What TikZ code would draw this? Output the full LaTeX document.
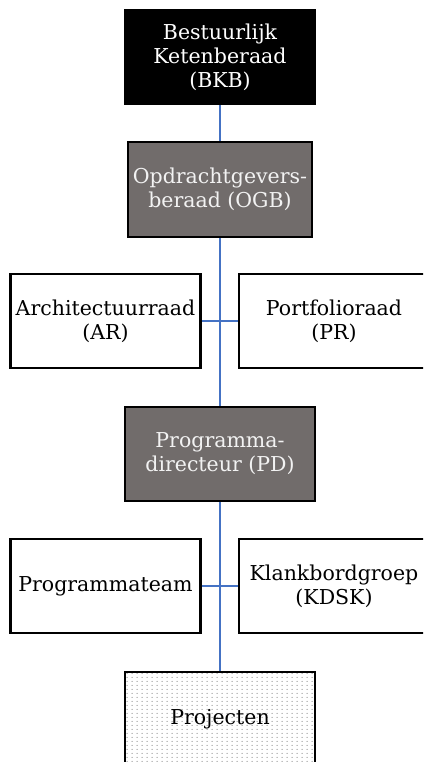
\documentclass[tikz,border=0pt]{standalone}
\usepackage{fontspec}
\setmainfont{DejaVu Serif}
\usepackage{xcolor}
\usetikzlibrary{positioning,patterns}

\definecolor{govgrey}{RGB}{113,108,107}
\definecolor{linkblue}{RGB}{68,114,196}

% sparse dot grid for the project box
\pgfdeclarepatternformonly{projdots}{\pgfpointorigin}{\pgfpoint{4.3pt}{3.5pt}}{\pgfpoint{4.3pt}{3.5pt}}{
  \pgfpathcircle{\pgfpoint{2.1pt}{1.7pt}}{0.6pt}
  \pgfusepath{fill}
}

\begin{document}
\begin{tikzpicture}[
  x=0.03cm, y=-0.03cm,
  font=\fontsize{17.5}{20.5}\selectfont,
  unit/.style={draw, line width=2pt, minimum width=5.7cm, minimum height=2.82cm, align=center, inner sep=1pt},
  topbox/.style={unit, fill=black, text=white},
  govbox/.style={unit, fill=govgrey, text=white!95!black},
  sidebox/.style={unit, fill=white},
  projbox/.style={unit, pattern=projdots, pattern color=black!45},
  link/.style={draw=linkblue, line width=1.8pt}
]
  \clip (0,0) rectangle (423,762);
  \fill[white] (0,0) rectangle (423,762);

  \node[topbox] at (220,57) (bkb) {Bestuurlijk\\Ketenberaad\\(BKB)};
  \node[govbox, minimum width=5.52cm, minimum height=2.85cm] at (220,189.5) (ogb) {Opdrachtgevers-\\beraad (OGB)};
  \node[sidebox] at (105.5,321) (ar) {Architectuurraad\\(AR)};
  \node[sidebox] at (334,321) (pr) {Portfolioraad\\(PR)};
  \node[govbox] at (220,454) (pd) {Programma-\\directeur (PD)};
  \node[sidebox] at (105.5,586) (team) {Programmateam};
  \node[sidebox] at (334,586) (kdsk) {Klankbordgroep\\(KDSK)};
  \node[projbox] at (220,719) (proj) {Projecten};

  % hoofdlijn
  \draw[link] (bkb.south) -- (ogb.north);
  \draw[link] (ogb.south) -- (pd.north);
  \draw[link] (pd.south) -- (proj.north);
  % zijtakken
  \draw[link] (ar.east) -- (pr.west);
  \draw[link] (team.east) -- (kdsk.west);
\end{tikzpicture}
\end{document}
